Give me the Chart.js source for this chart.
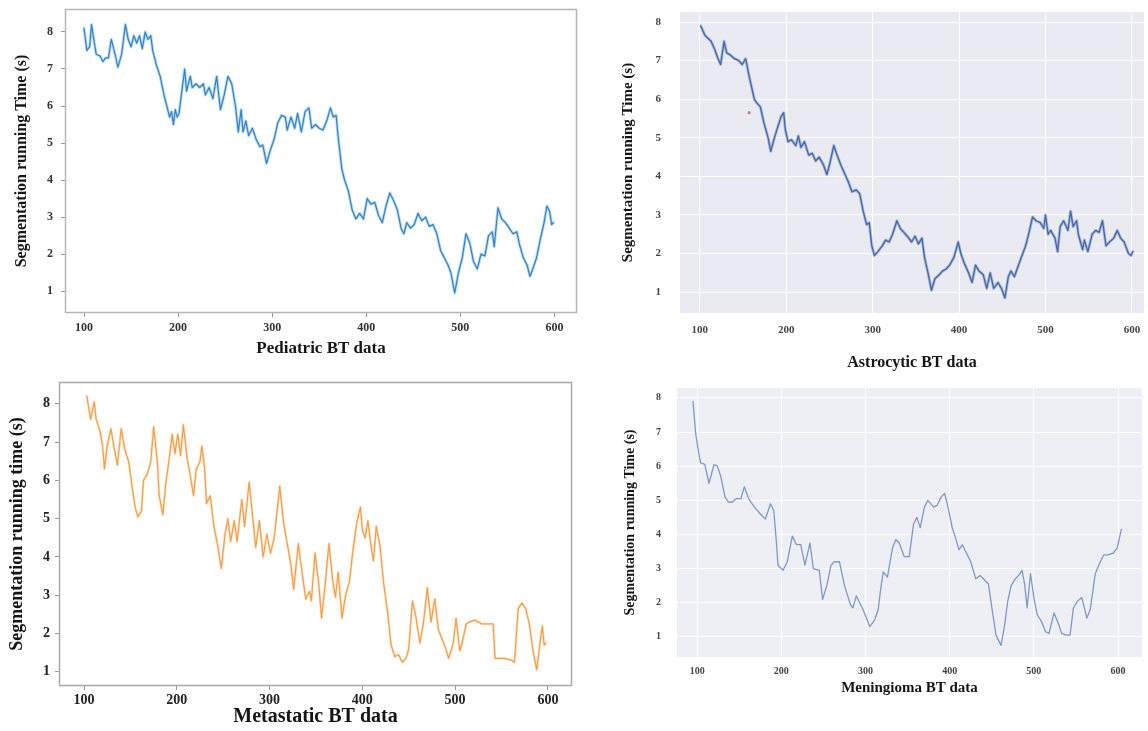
<!DOCTYPE html>
<html><head><meta charset="utf-8">
<script src="https://cdn.jsdelivr.net/npm/chart.js@4.4.1/dist/chart.umd.min.js"></script>
<style>
html,body{margin:0;padding:0;background:#fff;width:1148px;height:731px;overflow:hidden;position:relative}
canvas{position:absolute}
</style></head><body>
<canvas id="c1" width="582" height="365" style="left:0px;top:0px"></canvas>
<canvas id="c2" width="558" height="375" style="left:590px;top:0px"></canvas>
<canvas id="c3" width="582" height="361" style="left:0px;top:370px"></canvas>
<canvas id="c4" width="558" height="356" style="left:590px;top:375px"></canvas>
<script>
// ---- data ----
const xTickValues = [100,200,300,400,500,600];
const yTickValues = [1,2,3,4,5,6,7,8];

const pedX = [100,103,106,108,111,113,117,120,123,126,129,133,136,140,144,147,150,153,156,159,162,165,168,171,173,177,181,185,189,191,193,195,197,199,201,205,207,209,213,215,219,223,227,229,233,237,241,245,249,253,257,261,264,267,269,272,275,279,283,287,290,294,298,302,306,310,314,316,320,324,327,331,335,339,342,346,350,354,358,362,365,368,370,374,377,381,385,389,393,397,401,405,409,413,417,421,425,429,433,437,440,443,447,451,455,459,463,467,471,475,479,483,487,490,494,498,502,506,510,514,518,522,526,530,534,536,540,544,548,552,556,560,563,567,571,574,577,581,585,589,592,595,597,599];
const pedY = [8.1,7.5,7.6,8.2,7.7,7.4,7.35,7.2,7.3,7.3,7.8,7.4,7.05,7.4,8.2,7.8,7.6,7.9,7.7,7.9,7.55,8.0,7.8,7.9,7.5,7.1,6.8,6.3,5.9,5.7,5.85,5.5,5.9,5.7,5.8,6.6,7.0,6.4,6.8,6.5,6.6,6.5,6.6,6.3,6.5,6.2,6.8,5.9,6.3,6.8,6.6,6.0,5.3,5.9,5.3,5.6,5.2,5.4,5.1,4.9,4.95,4.45,4.8,5.1,5.55,5.75,5.7,5.35,5.7,5.4,5.8,5.3,5.85,5.95,5.4,5.5,5.4,5.35,5.6,5.95,5.7,5.75,5.2,4.3,4.0,3.7,3.2,2.95,3.1,2.95,3.5,3.35,3.4,3.05,2.85,3.3,3.65,3.45,3.2,2.7,2.55,2.85,2.7,2.8,3.1,2.9,3.0,2.75,2.8,2.55,2.1,1.9,1.7,1.5,0.95,1.5,1.9,2.55,2.3,1.8,1.6,2.0,1.95,2.5,2.6,2.2,3.25,2.95,2.85,2.7,2.55,2.6,2.25,1.9,1.7,1.4,1.6,1.9,2.4,2.85,3.3,3.15,2.8,2.85];

const astX = [101,106,113,117,121,124,128,131,135,140,145,149,153,157,160,163,166,170,174,179,182,185,189,194,197,199,202,206,211,214,217,221,226,230,234,238,243,247,250,255,258,263,267,272,276,281,285,289,293,296,299,302,306,311,315,319,323,328,332,336,340,345,349,353,357,360,364,368,372,377,381,385,389,394,399,402,406,411,415,419,423,428,432,436,440,445,449,453,457,460,464,468,472,477,481,485,489,494,498,500,503,506,511,514,517,521,526,529,532,536,538,543,545,549,554,558,562,566,570,574,579,583,587,591,596,599,601];
const astY = [7.9,7.65,7.5,7.3,7.05,6.9,7.5,7.2,7.15,7.05,7.0,6.9,7.05,6.6,6.3,6.0,5.9,5.8,5.4,5.0,4.65,4.9,5.2,5.55,5.65,5.2,4.9,4.95,4.8,5.05,4.75,4.9,4.55,4.6,4.4,4.5,4.3,4.05,4.3,4.8,4.6,4.3,4.1,3.85,3.6,3.65,3.55,3.1,2.75,2.8,2.2,1.95,2.05,2.2,2.35,2.3,2.5,2.85,2.65,2.55,2.45,2.3,2.45,2.25,2.4,1.9,1.5,1.05,1.35,1.45,1.55,1.6,1.7,1.9,2.3,2.0,1.75,1.5,1.25,1.7,1.55,1.45,1.1,1.5,1.1,1.25,1.1,0.85,1.4,1.55,1.4,1.65,1.9,2.2,2.55,2.95,2.85,2.8,2.65,3.0,2.5,2.6,2.4,2.05,2.7,2.85,2.6,3.1,2.7,2.85,2.5,2.1,2.35,2.05,2.5,2.6,2.55,2.85,2.2,2.3,2.4,2.6,2.4,2.3,2.0,1.95,2.05];
const astMarkX = [157];
const astMarkY = [5.65];

const metX = [103,107,111,113,117,120,122,125,129,132,136,140,144,148,152,155,158,162,164,168,172,175,179,181,185,188,192,195,198,201,204,207,211,214,218,221,225,227,230,232,236,240,244,248,252,255,258,262,265,270,273,278,282,285,289,293,297,301,305,311,315,319,323,326,331,335,339,343,345,349,353,356,360,364,368,371,374,378,382,386,390,394,398,400,403,406,409,412,415,419,423,427,431,435,439,443,447,450,454,458,462,466,470,474,478,482,486,490,493,498,501,505,508,512,515,521,529,541,543,553,561,564,568,572,576,580,584,588,592,594,596,598];
const metY = [8.2,7.6,8.05,7.6,7.3,6.9,6.3,6.9,7.35,6.9,6.4,7.35,6.8,6.5,5.8,5.3,5.05,5.2,6.0,6.15,6.5,7.4,6.5,5.6,5.1,5.9,6.6,7.2,6.7,7.2,6.65,7.45,6.6,6.2,5.6,6.3,6.5,6.9,6.3,5.4,5.6,4.8,4.3,3.7,4.6,5.0,4.4,4.95,4.4,5.5,4.8,5.95,5.0,4.25,4.95,4.0,4.6,4.1,4.5,5.85,4.9,4.35,3.8,3.15,4.35,3.6,2.9,3.1,2.85,4.1,3.3,2.4,3.3,4.35,3.4,2.95,3.6,2.4,3.0,3.35,4.2,4.9,5.3,4.7,4.5,4.95,4.35,3.9,4.8,4.3,3.3,2.6,1.7,1.4,1.45,1.25,1.35,1.6,2.85,2.4,1.75,2.3,3.2,2.3,2.9,2.1,1.85,1.6,1.35,1.75,2.4,1.55,1.8,2.25,2.3,2.35,2.25,2.25,1.35,1.35,1.3,1.25,2.65,2.8,2.65,2.25,1.55,1.05,1.85,2.2,1.7,1.75];

const menX = [95,98,101,104,109,114,120,124,128,133,137,142,146,152,156,161,168,175,181,187,191,194,196,202,207,213,218,223,228,234,238,245,249,254,259,263,269,275,282,285,289,293,297,301,305,311,315,318,321,326,332,336,340,346,352,357,361,365,370,374,381,385,390,394,398,403,407,411,415,420,425,431,436,440,446,451,455,461,465,469,473,478,482,486,489,492,496,500,504,509,514,518,524,529,533,539,543,547,552,557,563,567,573,578,583,588,594,599,604];
const menY = [7.9,7.0,6.5,6.1,6.05,5.5,6.05,6.0,5.7,5.1,4.95,4.95,5.05,5.05,5.4,5.05,4.8,4.6,4.45,4.9,4.7,3.8,3.1,2.95,3.2,3.95,3.7,3.7,3.1,3.75,3.0,2.95,2.1,2.5,3.1,3.2,3.2,2.5,1.95,1.85,2.2,2.0,1.8,1.55,1.3,1.5,1.8,2.4,2.9,2.75,3.6,3.85,3.75,3.35,3.35,4.3,4.5,4.2,4.8,5.0,4.8,4.85,5.1,5.2,4.8,4.2,3.9,3.55,3.7,3.45,3.2,2.7,2.8,2.7,2.55,1.7,1.05,0.75,1.3,2.05,2.5,2.7,2.8,2.95,2.55,1.85,2.85,2.15,1.65,1.45,1.15,1.1,1.7,1.4,1.1,1.05,1.05,1.85,2.05,2.15,1.55,1.8,2.85,3.15,3.4,3.4,3.45,3.6,4.15];

const titles = {
  ped: ['Segmentation running Time (s)', 'Pediatric BT data'],
  ast: ['Segmentation running Time (s)', 'Astrocytic BT data'],
  met: ['Segmentation running time (s)', 'Metastatic BT data'],
  men: ['Segmentation running Time (s)', 'Meningioma BT data']
};

// ---- helpers ----
const pts = (xs, ys) => xs.map((x, i) => ({x: x, y: ys[i]}));
const SERIF = "'Liberation Serif', 'Times New Roman', serif";

const areaPlugin = {
  id: 'areaStyle',
  beforeDraw(chart, args, opts) {
    if (!opts.bg) return;
    const a = chart.chartArea, c = chart.ctx;
    c.save(); c.fillStyle = opts.bg; c.fillRect(a.left, a.top, a.right - a.left, a.bottom - a.top); c.restore();
  },
  afterDraw(chart, args, opts) {
    if (!opts.border) return;
    const a = chart.chartArea, c = chart.ctx;
    c.save(); c.strokeStyle = opts.border; c.lineWidth = opts.borderWidth || 1;
    c.strokeRect(a.left + 0.5, a.top + 0.5, a.right - a.left - 1, a.bottom - a.top - 1); c.restore();
  }
};

function makePanel(id, p) {
  const lineStyle = {pointRadius: 0, tension: 0, fill: false, borderJoinStyle: 'round', borderCapStyle: 'round'};
  const datasets = [
    Object.assign({data: pts(p.xs, p.ys), borderColor: p.color, borderWidth: p.lw}, lineStyle)
  ];
  if (p.halo) datasets.push(Object.assign({data: pts(p.xs, p.ys), borderColor: p.halo, borderWidth: p.haloW}, lineStyle));
  if (p.extra) datasets.unshift(p.extra);
  new Chart(document.getElementById(id), {
    type: 'line',
    data: {datasets: datasets},
    plugins: [areaPlugin],
    options: {
      responsive: false, animation: false, devicePixelRatio: 1,
      events: [],
      layout: {padding: p.pad},
      plugins: {legend: {display: false}, tooltip: {enabled: false}, areaStyle: {bg: p.bg, border: p.border, borderWidth: p.borderW}},
      scales: {
        x: {
          type: 'linear', min: p.xmin, max: p.xmax,
          afterBuildTicks: s => { s.ticks = xTickValues.map(v => ({value: v})); },
          afterFit: s => { s.height = p.xh; s.paddingLeft = 0; s.paddingRight = 0; },
          grid: {display: true, drawOnChartArea: p.gridOn, drawTicks: p.tickMarks, tickLength: 4, color: p.gridColor, lineWidth: p.gridW},
          border: {display: false},
          ticks: {autoSkip: false, maxRotation: 0, padding: p.xtPad, color: p.tickColor, font: {family: SERIF, weight: 'bold', size: p.tickSize}},
          title: {display: true, text: p.titles[1], color: '#151515', font: {family: SERIF, weight: 'bold', size: p.xtSize}, padding: {top: 0, bottom: p.xTitlePad}}
        },
        y: {
          type: 'linear', min: p.ymin, max: p.ymax,
          afterBuildTicks: s => { s.ticks = yTickValues.map(v => ({value: v})); },
          afterFit: s => { s.width = p.yw; s.paddingTop = 0; s.paddingBottom = 0; },
          grid: {display: true, drawOnChartArea: p.gridOn, drawTicks: p.tickMarks, tickLength: 4, color: p.gridColor, lineWidth: p.gridW},
          border: {display: false},
          ticks: {autoSkip: false, padding: p.ytPad, color: p.tickColor, font: {family: SERIF, weight: 'bold', size: p.tickSize}},
          title: {display: true, text: p.titles[0], color: '#151515', font: {family: SERIF, weight: 'bold', size: p.ytSize}, padding: {top: p.yTitlePad, bottom: 0}}
        }
      }
    }
  });
}

// Pediatric
makePanel('c1', {
  xs: pedX, ys: pedY, color: '#3183c4', lw: 1.2, halo: 'rgba(120,180,232,0.5)', haloW: 3,
  titles: titles.ped, pad: {left: 0, top: 9, right: 5, bottom: 0},
  xmin: 79.8, xmax: 624, ymin: 0.41, ymax: 8.62, xh: 52, yw: 65,
  gridOn: false, tickMarks: true, gridColor: '#999', gridW: 1,
  border: '#b5b5b5', borderW: 1.5,
  tickColor: '#333', tickSize: 12, xtPad: 4, ytPad: 8,
  xtSize: 17, xTitlePad: 6, ytSize: 16, yTitlePad: 12
});

// Astrocytic
makePanel('c2', {
  xs: astX, ys: astY, color: '#4467a8', lw: 1.3, halo: 'rgba(90,125,190,0.42)', haloW: 3,
  extra: {data: pts(astMarkX, astMarkY), showLine: false, pointRadius: 1.6, pointBackgroundColor: '#c08a7a', pointBorderWidth: 0},
  titles: titles.ast, pad: {left: 0, top: 12, right: 1, bottom: 0},
  xmin: 77, xmax: 614, ymin: 0.46, ymax: 8.26, xh: 62, yw: 90,
  gridOn: true, tickMarks: false, gridColor: '#ffffff', gridW: 1,
  bg: '#eaeaf2',
  tickColor: '#444', tickSize: 11, xtPad: 11, ytPad: 19,
  xtSize: 16, xTitlePad: 3, ytSize: 15, yTitlePad: 29
});

// Metastatic
makePanel('c3', {
  xs: metX, ys: metY, color: '#f2a04a', lw: 1.2, halo: 'rgba(245,175,100,0.35)', haloW: 2.6,
  titles: titles.met, pad: {left: 0, top: 12, right: 10, bottom: 0},
  xmin: 73, xmax: 626, ymin: 0.63, ymax: 8.57, xh: 45, yw: 59,
  gridOn: false, tickMarks: true, gridColor: '#999', gridW: 1,
  border: '#a8a8a8', borderW: 1.5,
  tickColor: '#222', tickSize: 14, xtPad: 2, ytPad: 5,
  xtSize: 20, xTitlePad: 2, ytSize: 18, yTitlePad: 7
});

// Meningioma
makePanel('c4', {
  xs: menX, ys: menY, color: '#7f98c8', lw: 1.3,
  titles: titles.men, pad: {left: 0, top: 13, right: 6, bottom: 0},
  xmin: 76, xmax: 628.5, ymin: 0.41, ymax: 8.29, xh: 74, yw: 87,
  gridOn: true, tickMarks: false, gridColor: '#ffffff', gridW: 1,
  bg: '#eeeef5',
  tickColor: '#444', tickSize: 10, xtPad: 8, ytPad: 16,
  xtSize: 15, xTitlePad: 34, ytSize: 14, yTitlePad: 32
});
</script>
</body></html>
